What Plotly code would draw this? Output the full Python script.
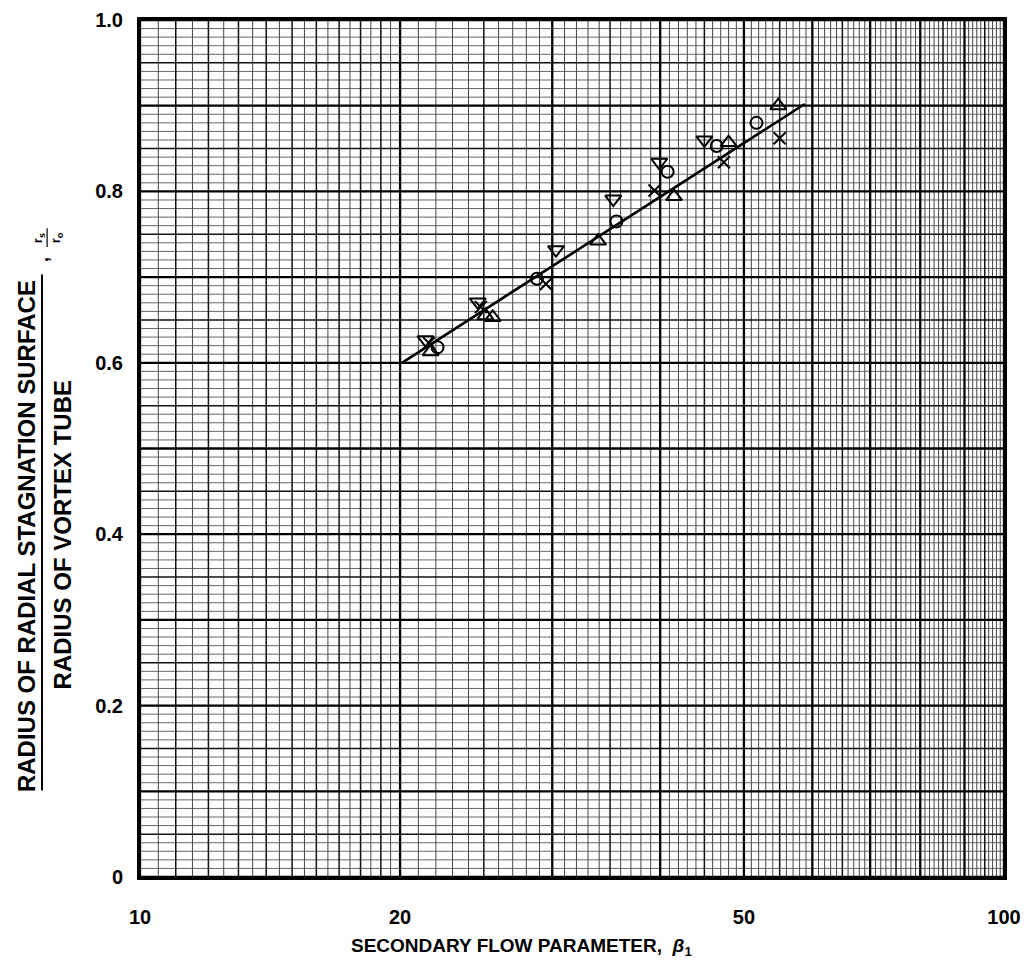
import plotly.graph_objects as go

# ---------------- data ----------------
circle_x = [22.1, 28.8, 35.6, 40.8, 46.5, 51.7]
circle_y = [0.618, 0.698, 0.765, 0.823, 0.853, 0.880]

tri_up_x = [21.7, 25.1, 25.6, 33.9, 41.5, 48.0, 54.8]
tri_up_y = [0.613, 0.655, 0.653, 0.742, 0.794, 0.857, 0.900]

tri_down_x = [21.4, 24.6, 30.3, 35.3, 39.9, 45.0]
tri_down_y = [0.627, 0.671, 0.732, 0.791, 0.834, 0.860]

cross_x = [21.6, 24.8, 29.5, 39.4, 47.4, 55.0]
cross_y = [0.623, 0.665, 0.692, 0.801, 0.834, 0.862]

fit_x = [20.1, 58.8]
fit_y = [0.600, 0.902]

x_tick_vals = [10, 20, 50, 100]
x_tick_text = ["10", "20", "50", "100"]
y_tick_vals = [0, 0.2, 0.4, 0.6, 0.8, 1.0]
y_tick_text = ["0", "0.2", "0.4", "0.6", "0.8", "1.0"]

# graph-paper rulings
x_heavy = [10, 20, 30, 40, 50, 60, 70, 80, 90, 100]
x_medium = [11, 12, 13, 14, 15, 16, 17, 18, 19, 25, 35, 45, 55, 65, 75, 85, 95]
x_light = [10.5 + i for i in range(10)] + [v for v in range(21, 100) if v % 5 != 0]
y_heavy = [i / 10 for i in range(11)]
y_medium = [i / 10 + 0.05 for i in range(10)]
y_light = [i / 100 for i in range(101) if i % 5 != 0]

FONT = "Liberation Sans, Arial, sans-serif"

def bfont(size):
    return dict(family=FONT, size=size, color="black", weight="bold")

fig = go.Figure()

fig.add_trace(go.Scatter(x=fit_x, y=fit_y, mode="lines",
                         line=dict(color="black", width=2.6), showlegend=False))
mk = dict(color="black", line=dict(color="black", width=2))
fig.add_trace(go.Scatter(x=circle_x, y=circle_y, mode="markers", showlegend=False,
                         marker=dict(symbol="circle-open", size=12, **mk)))
fig.add_trace(go.Scatter(x=tri_up_x, y=tri_up_y, mode="markers", showlegend=False,
                         marker=dict(symbol="triangle-up-open", size=14, **mk)))
fig.add_trace(go.Scatter(x=tri_down_x, y=tri_down_y, mode="markers", showlegend=False,
                         marker=dict(symbol="triangle-down-open", size=14, **mk)))
fig.add_trace(go.Scatter(x=cross_x, y=cross_y, mode="markers", showlegend=False,
                         marker=dict(symbol="x-thin-open", size=12, **mk)))

shapes = []
def vline(v, w, c):
    shapes.append(dict(type="line", xref="x", yref="paper", x0=v, x1=v, y0=0, y1=1,
                       layer="below", line=dict(color=c, width=w)))
def hline(v, w, c):
    shapes.append(dict(type="line", xref="paper", yref="y", x0=0, x1=1, y0=v, y1=v,
                       layer="below", line=dict(color=c, width=w)))

for v in x_light:
    vline(v, 1.0, "#444444")
for v in y_light:
    hline(v, 0.9, "#555555")
for v in x_medium:
    vline(v, 1.5, "#111111")
for v in y_medium:
    hline(v, 1.5, "#111111")
for v in x_heavy:
    vline(v, 2.3, "black")
for v in y_heavy:
    hline(v, 2.3, "black")

# y-title fraction bar (paper coords outside the plot)
shapes.append(dict(type="line", xref="paper", yref="paper", x0=-0.1134, x1=-0.1134,
                   y0=0.101, y1=0.703, line=dict(color="black", width=2)))
# small r_s / r_o fraction bar
shapes.append(dict(type="line", xref="paper", yref="paper", x0=-0.1075, x1=-0.1075,
                   y0=0.735, y1=0.757, line=dict(color="black", width=1.2)))

annotations = [
    dict(text="RADIUS OF RADIAL STAGNATION SURFACE", xref="paper", yref="paper",
         x=-0.1306, y=0.398, textangle=-90, showarrow=False,
         font=bfont(24), xanchor="center", yanchor="middle"),
    dict(text="RADIUS OF VORTEX TUBE", xref="paper", yref="paper",
         x=-0.0899, y=0.399, textangle=-90, showarrow=False,
         font=bfont(24), xanchor="center", yanchor="middle"),
    dict(text=",", xref="paper", yref="paper",
         x=-0.1134, y=0.72, textangle=-90, showarrow=False,
         font=bfont(18), xanchor="center", yanchor="middle"),
    dict(text="r<sub>s</sub>", xref="paper", yref="paper",
         x=-0.1175, y=0.746, textangle=-90, showarrow=False,
         font=bfont(13), xanchor="center", yanchor="middle"),
    dict(text="r<sub>o</sub>", xref="paper", yref="paper",
         x=-0.0965, y=0.746, textangle=-90, showarrow=False,
         font=bfont(13), xanchor="center", yanchor="middle"),
    dict(text="SECONDARY FLOW PARAMETER,  <i>β</i><sub>1</sub>", xref="paper", yref="paper",
         x=0.441, y=-0.0817, showarrow=False,
         font=bfont(19), xanchor="center", yanchor="middle"),
]

fig.update_layout(
    width=1013, height=953,
    margin=dict(l=132, r=17, t=12, b=84, autoexpand=False),
    paper_bgcolor="white", plot_bgcolor="white",
    shapes=shapes, annotations=annotations,
    xaxis=dict(type="log", range=[1, 2], tickvals=x_tick_vals, ticktext=x_tick_text,
               showgrid=False, zeroline=False, showline=True, linecolor="black",
               linewidth=3, mirror=True, ticks="outside", ticklen=20, automargin=False,
               tickcolor="rgba(0,0,0,0)", ticklabeloverflow="allow",
               tickfont=bfont(20)),
    yaxis=dict(range=[0, 1], tickvals=y_tick_vals, ticktext=y_tick_text,
               showgrid=False, zeroline=False, showline=True, linecolor="black",
               linewidth=3, mirror=True, ticks="outside", ticklen=10, automargin=False,
               tickcolor="rgba(0,0,0,0)", ticklabeloverflow="allow",
               tickfont=bfont(20)),
)

fig.write_html("out.html")
